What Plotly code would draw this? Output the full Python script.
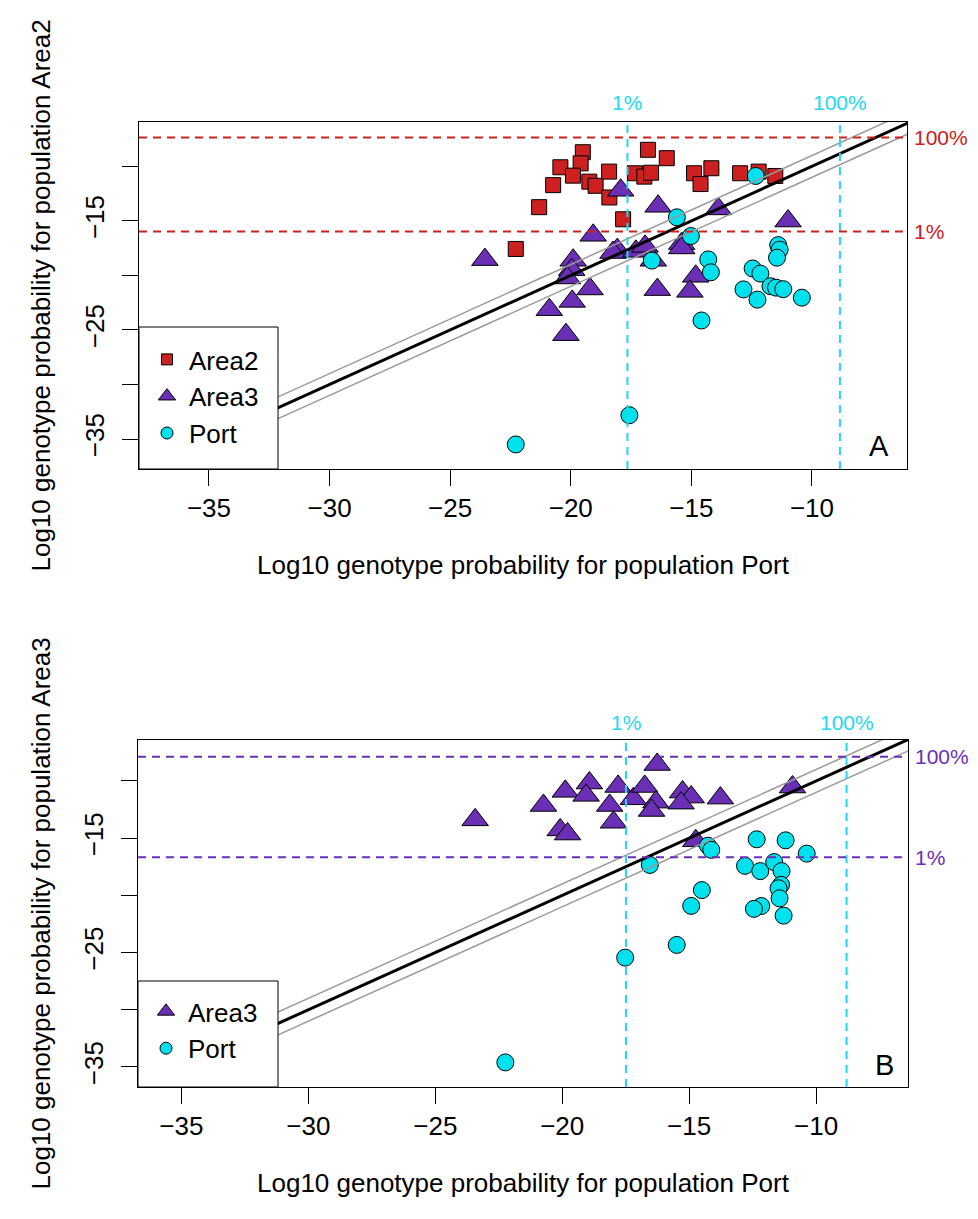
import plotly.graph_objects as go

# ---------------- data ----------------
# Panel A: x = log10 P(Port), y = log10 P(Area2)
A_area2_x = [-19.50, -19.59, -20.43, -19.91, -20.73, -19.23, -18.97, -18.41, -18.40, -21.31, -17.83, -22.28,
             -16.80, -16.02, -17.34, -16.95, -16.67, -14.89, -14.17, -14.62, -12.98, -12.21, -11.52]
A_area2_y = [-8.70, -9.72, -10.08, -10.85, -11.72, -11.40, -11.78, -10.48, -12.85, -13.74, -14.85, -17.57,
             -8.48, -9.25, -10.63, -10.94, -10.58, -10.63, -10.17, -11.62, -10.63, -10.48, -10.88]
A_area3_x = [-23.56, -17.93, -16.38, -13.88, -10.99, -19.07, -18.07, -18.25, -17.30, -16.92, -16.58, -15.40,
             -15.40, -19.90, -19.96, -20.14, -19.20, -19.94, -20.89, -16.41, -14.82, -15.06, -20.20]
A_area3_y = [-18.55, -12.19, -13.66, -13.90, -15.01, -16.32, -17.63, -17.90, -17.79, -17.33, -18.61, -17.08,
             -17.48, -18.61, -19.47, -20.23, -21.24, -22.38, -23.14, -21.30, -20.08, -21.46, -25.43]
A_port_x = [-12.33, -15.60, -15.02, -16.64, -14.30, -14.19, -12.46, -12.14, -12.84, -12.26, -11.40, -11.34,
            -11.45, -11.72, -11.49, -11.19, -10.42, -14.58, -17.57, -22.28]
A_port_y = [-10.88, -14.67, -16.39, -18.64, -18.53, -19.71, -19.36, -19.83, -21.28, -22.22, -17.22, -17.64,
            -18.37, -20.99, -21.12, -21.26, -22.04, -24.13, -32.82, -35.50]

# Panel B: x = log10 P(Port), y = log10 P(Area3)
B_area3_x = [-23.43, -20.74, -19.88, -20.08, -19.79, -18.93, -19.06, -17.80, -18.13, -17.98, -17.20, -16.75,
             -16.26, -16.31, -16.48, -15.26, -14.92, -15.32, -13.77, -10.93, -14.74]
B_area3_y = [-13.40, -12.14, -10.91, -14.28, -14.64, -10.18, -11.26, -10.48, -12.14, -13.61, -11.56, -10.48,
             -8.56, -11.85, -12.58, -10.97, -11.41, -11.94, -11.50, -10.53, -15.23]
B_port_x = [-22.24, -17.52, -15.49, -14.92, -14.50, -16.55, -14.26, -14.13, -12.34, -11.20, -10.37, -12.80,
            -12.20, -11.65, -11.36, -11.38, -11.48, -11.44, -12.16, -12.45, -11.28]
B_port_y = [-34.60, -25.44, -24.33, -20.92, -19.54, -17.34, -15.66, -16.02, -15.10, -15.19, -16.35, -17.42,
            -17.88, -17.09, -17.88, -19.08, -19.38, -20.26, -20.93, -21.18, -21.77]

# quantile thresholds (1%, 100%)
thresh_labels = ["1%", "100%"]
A_port_thresh = [-17.65, -8.84]
A_area2_thresh = [-15.98, -7.34]
B_port_thresh = [-17.49, -8.80]
B_area3_thresh = [-16.66, -7.88]

# tick labels
x_tickvals = [-35, -30, -25, -20, -15, -10]
x_ticktext = ["\u221235", "\u221230", "\u221225", "\u221220", "\u221215", "\u221210"]
y_tickvals = [-35, -30, -25, -20, -15, -10]
y_ticktext = ["\u221235", "", "\u221225", "", "\u221215", ""]

diag_offsets = [-1, 1]

# ---------------- style ----------------
W, H = 978, 1219
FONT = "Liberation Sans, Arial, sans-serif"
RED = "#CD2020"
PURPLE = "#6A2FB5"
CYAN = "#00E1EE"
CYAN_LINE = "#22D8F0"

SYM = {"Area2": ("square", RED, 15, 11),
       "Area3": ("triangle-up", PURPLE, 23, 15),
       "Port": ("circle", CYAN, 17, 12)}


def fx(p):
    return p / W


def fy(p):
    return 1 - p / H


panels = {
    "A": dict(xa="x", ya="y", leg="legend", rect=(139, 122, 907, 469),
              xr=[-37.90, -6.06], yr=[-37.75, -5.93],
              legbox=(139, 327, 278, 469), legtop=336),
    "B": dict(xa="x2", ya="y2", leg="legend2", rect=(138, 740, 908, 1087),
              xr=[-36.71, -6.38], yr=[-36.75, -6.42],
              legbox=(138, 981, 278, 1087), legtop=988),
}

fig = go.Figure()


def add_points(x, y, name, p):
    symbol, color, size, _ = SYM[name]
    fig.add_trace(go.Scatter(
        x=x, y=y, mode="markers", name=name, showlegend=False,
        marker=dict(symbol=symbol, color=color, size=size, line=dict(color="black", width=1)),
        xaxis=p["xa"], yaxis=p["ya"], cliponaxis=True))


def add_legend_key(name, p):
    symbol, color, _, lsize = SYM[name]
    fig.add_trace(go.Scatter(
        x=[None], y=[None], mode="markers", name=name, legendgroup=name + p["leg"],
        marker=dict(symbol=symbol, color=color, size=lsize, line=dict(color="black", width=1)),
        xaxis=p["xa"], yaxis=p["ya"], legend=p["leg"], showlegend=True))


def add_diag(p):
    lo, hi = -45, 0
    for off in diag_offsets:
        fig.add_trace(go.Scatter(x=[lo, hi], y=[lo + off, hi + off], mode="lines",
                                 line=dict(color="#9a9a9a", width=1.5), showlegend=False,
                                 hoverinfo="skip", xaxis=p["xa"], yaxis=p["ya"]))
    fig.add_trace(go.Scatter(x=[lo, hi], y=[lo, hi], mode="lines",
                             line=dict(color="black", width=3), showlegend=False,
                             hoverinfo="skip", xaxis=p["xa"], yaxis=p["ya"]))


pA = panels["A"]
add_points(A_area2_x, A_area2_y, "Area2", pA)
add_points(A_area3_x, A_area3_y, "Area3", pA)
add_points(A_port_x, A_port_y, "Port", pA)
add_diag(pA)
for n in ["Area2", "Area3", "Port"]:
    add_legend_key(n, pA)

pB = panels["B"]
add_points(B_area3_x, B_area3_y, "Area3", pB)
add_points(B_port_x, B_port_y, "Port", pB)
add_diag(pB)
for n in ["Area3", "Port"]:
    add_legend_key(n, pB)

shapes = []
annotations = []


def dashed_lines(p, xvals, yvals, hcolor):
    yd = p["ya"] + " domain"
    xd = p["xa"] + " domain"
    for v in xvals:
        shapes.append(dict(type="line", xref=p["xa"], yref=yd, x0=v, x1=v, y0=0, y1=1,
                           line=dict(color=CYAN_LINE, width=2, dash="8px,6px"), layer="above"))
    for v in yvals:
        shapes.append(dict(type="line", xref=xd, yref=p["ya"], x0=0, x1=1, y0=v, y1=v,
                           line=dict(color=hcolor, width=2, dash="8px,6px"), layer="above"))


def pct_labels(p, xvals, yvals, hcolor, top_y):
    for v, t in zip(xvals, thresh_labels):
        annotations.append(dict(text=t, xref=p["xa"], x=v, yref="paper", y=fy(top_y),
                                xanchor="center", yanchor="middle", showarrow=False,
                                font=dict(family=FONT, size=21, color=CYAN_LINE)))
    for v, t in zip(yvals, thresh_labels):
        annotations.append(dict(text=t, xref="paper", x=fx(p["rect"][2] + 5), yref=p["ya"], y=v,
                                xanchor="left", yanchor="middle", showarrow=False,
                                font=dict(family=FONT, size=21, color=hcolor)))


def legend_box(p):
    l, t, r, b = p["legbox"]
    shapes.append(dict(type="rect", xref="paper", yref="paper", x0=fx(l), x1=fx(r), y0=fy(b), y1=fy(t),
                       fillcolor="white", line=dict(color="black", width=1), layer="above"))


dashed_lines(pA, A_port_thresh, A_area2_thresh, RED)
pct_labels(pA, A_port_thresh, A_area2_thresh, RED, 103)
dashed_lines(pB, B_port_thresh, B_area3_thresh, PURPLE)
pct_labels(pB, B_port_thresh, B_area3_thresh, PURPLE, 722)
legend_box(pA)
legend_box(pB)


def titles(p, ytitle, letter, letter_pos):
    l, t, r, b = p["rect"]
    annotations.append(dict(text="Log10 genotype probability for population Port", xref="paper", yref="paper",
                            x=fx((l + r) / 2), y=fy(b + 96), xanchor="center", yanchor="middle",
                            showarrow=False, font=dict(family=FONT, size=26, color="black")))
    annotations.append(dict(text=ytitle, xref="paper", yref="paper", textangle=-90,
                            x=fx(40), y=fy((t + b) / 2), xanchor="center", yanchor="middle",
                            showarrow=False, font=dict(family=FONT, size=26, color="black")))
    annotations.append(dict(text=letter, xref="paper", yref="paper",
                            x=fx(letter_pos[0]), y=fy(letter_pos[1]), xanchor="center", yanchor="middle",
                            showarrow=False, font=dict(family=FONT, size=29, color="black")))


titles(pA, "Log10 genotype probability for population Area2", "A", (879, 446))
titles(pB, "Log10 genotype probability for population Area3", "B", (884, 1065))


def axis_common():
    return dict(showgrid=False, zeroline=False, showline=True, mirror=True, linecolor="black",
                linewidth=1, ticks="outside", ticklen=16, tickwidth=1, tickcolor="black",
                tickfont=dict(family=FONT, size=26, color="black"), fixedrange=True)


layout = dict(width=W, height=H, autosize=False, margin=dict(l=0, r=0, t=0, b=0),
              paper_bgcolor="white", plot_bgcolor="white",
              font=dict(family=FONT, size=26, color="black"),
              shapes=shapes, annotations=annotations)

for key, p in panels.items():
    l, t, r, b = p["rect"]
    xname = "xaxis" if p["xa"] == "x" else "xaxis2"
    yname = "yaxis" if p["ya"] == "y" else "yaxis2"
    layout[xname] = dict(axis_common(), domain=[fx(l), fx(r)], range=p["xr"], anchor=p["ya"],
                         tickvals=x_tickvals, ticktext=x_ticktext, ticklabelstandoff=0)
    layout[yname] = dict(axis_common(), domain=[fy(b), fy(t)], range=p["yr"], anchor=p["xa"],
                         tickvals=y_tickvals, ticktext=y_ticktext, tickangle=-90, ticklabelstandoff=8)
    layout[p["leg"]] = dict(x=fx(p["legbox"][0] + 6), y=fy(p["legtop"]), xanchor="left", yanchor="top",
                            bgcolor="rgba(0,0,0,0)", borderwidth=0, itemsizing="trace", itemwidth=34,
                            tracegroupgap=0, font=dict(family=FONT, size=26, color="black"))

fig.update_layout(**layout)
fig.write_html("out.html", config={"displayModeBar": False},
               post_script="document.body.style.margin='0';")
